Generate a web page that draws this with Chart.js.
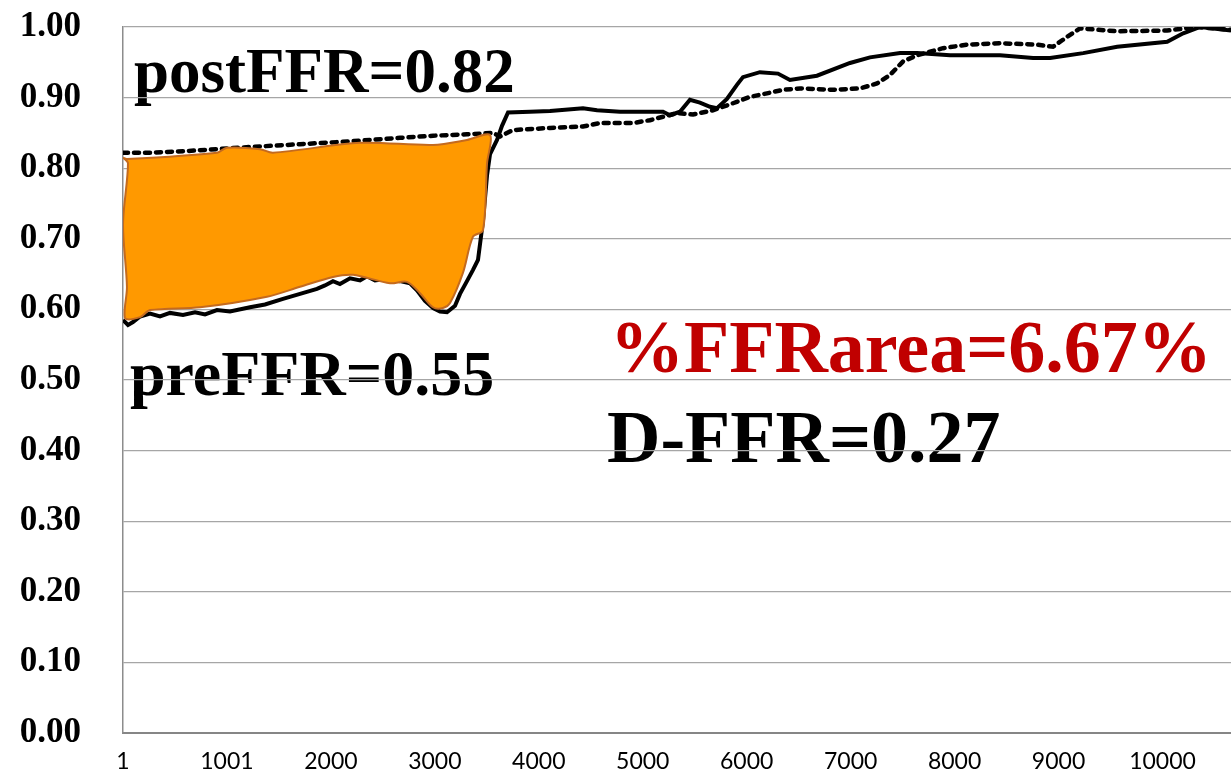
<!DOCTYPE html>
<html>
<head>
<meta charset="utf-8">
<script src="https://cdn.jsdelivr.net/npm/chart.js@4.4.1/dist/chart.umd.min.js"></script>
<style>
  html, body { margin: 0; padding: 0; background: #fff; }
  canvas { display: block; }
</style>
</head>
<body>
<canvas id="ffrChart" width="1231" height="773"></canvas>
<script>
// pre-PCI pullback (solid line): sample index and FFR
const preX = [1, 49, 97, 165, 261, 357, 453, 578, 694, 790, 905, 1030, 1223, 1367, 1540, 1704, 1867, 1944, 2021, 2088,
  2185, 2281, 2348, 2425, 2521, 2666, 2762, 2829, 2906, 2984, 3051, 3118, 3195, 3243, 3310, 3368, 3416, 3464, 3503, 3532,
  3599, 3647, 3705, 3916, 4109, 4426, 4561, 4782, 5196, 5263, 5359, 5455, 5551, 5648, 5715, 5811, 5907, 5965, 6128, 6302,
  6417, 6677, 6995, 7187, 7476, 7640, 7957, 8438, 8756, 8920, 9238, 9565, 10046, 10200, 10364, 10660];
const preFFR = [0.585, 0.578, 0.582, 0.590, 0.594, 0.590, 0.595, 0.592, 0.596, 0.593, 0.599, 0.597, 0.603, 0.607, 0.615, 0.622, 0.629, 0.634, 0.640, 0.636,
  0.644, 0.641, 0.647, 0.641, 0.643, 0.640, 0.637, 0.627, 0.612, 0.602, 0.597, 0.596, 0.605, 0.622, 0.640, 0.656, 0.670, 0.725, 0.790, 0.820,
  0.840, 0.860, 0.879, 0.880, 0.881, 0.885, 0.882, 0.880, 0.880, 0.875, 0.880, 0.897, 0.893, 0.887, 0.885, 0.898, 0.918, 0.929, 0.936, 0.934,
  0.925, 0.931, 0.949, 0.957, 0.963, 0.963, 0.960, 0.960, 0.956, 0.956, 0.963, 0.972, 0.979, 0.991, 1.000, 0.995];

// post-PCI pullback (dotted line)
const postX = [1, 261, 578, 905, 1223, 1704, 2185, 2666, 2984, 3310, 3560, 3628, 3753, 4109, 4426, 4590, 4907, 5070, 5330, 5484,
  5676, 5869, 6032, 6196, 6350, 6513, 6831, 7091, 7254, 7379, 7504, 7640, 7890, 8120, 8438, 8794, 8947, 9082, 9207, 9565,
  10046, 10334, 10660];
const postFFR = [0.822, 0.822, 0.824, 0.827, 0.830, 0.834, 0.838, 0.843, 0.846, 0.848, 0.850, 0.845, 0.854, 0.857, 0.859, 0.864, 0.864, 0.868, 0.878, 0.876,
  0.882, 0.892, 0.901, 0.906, 0.911, 0.913, 0.911, 0.913, 0.920, 0.932, 0.951, 0.960, 0.970, 0.975, 0.977, 0.975, 0.972, 0.986, 0.998, 0.994,
  0.995, 1.000, 0.996];

// outline of the shaded %FFR area (clockwise, closed)
const areaX = [1, 39, 905, 1001, 1319, 1444, 2281, 2983, 3310, 3532, 3503, 3464, 3368, 3272, 3147, 3079, 2983, 2858, 2733, 2570,
  2214, 2021, 1704, 1386, 742, 261, 165, 20, 39, 1, 49, 1];
const areaY = [0.815, 0.813, 0.822, 0.829, 0.827, 0.822, 0.836, 0.833, 0.840, 0.847, 0.807, 0.712, 0.703, 0.652, 0.609, 0.602, 0.603, 0.623, 0.639, 0.637,
  0.649, 0.646, 0.632, 0.618, 0.603, 0.599, 0.589, 0.588, 0.632, 0.720, 0.807, 0.815];

// x axis ticks
const xTickValues = [1, 1001, 2001, 3001, 4001, 5001, 6001, 7001, 8001, 9001, 10001];
const xTickLabels = ['1', '1001', '2000', '3000', '4000', '5000', '6000', '7000', '8000', '9000', '10000'];

function toPoints(xs, ys) {
    return xs.map(function(x, i) { return { x: x, y: ys[i] }; });
}

// big labels inside the plot
const notes = [
    { text: 'postFFR=0.82', x: 134, y: 92, size: 63, color: '#000000' },
    { text: 'preFFR=0.55', x: 130, y: 395, size: 64, color: '#000000' },
    { text: '%FFRarea=6.67%', x: 610, y: 372, size: 74, color: '#c00000' },
    { text: 'D-FFR=0.27', x: 607, y: 462, size: 74, color: '#000000' }
];

const notesPlugin = {
    id: 'notes',
    beforeDraw: function(chart) {
        const ctx = chart.ctx;
        ctx.save();
        ctx.textAlign = 'left';
        ctx.textBaseline = 'alphabetic';
        notes.forEach(function(n) {
            ctx.font = 'bold ' + n.size + 'px "Liberation Serif", "Times New Roman", serif';
            ctx.fillStyle = n.color;
            ctx.fillText(n.text, n.x, n.y);
        });
        ctx.restore();
    }
};

const ctx = document.getElementById('ffrChart').getContext('2d');
const ffrChart = new Chart(ctx, {
    type: 'line',
    data: {
        datasets: [
            {
                label: 'FFR area',
                data: toPoints(areaX, areaY),
                borderColor: '#c46a1e',
                borderWidth: 2,
                backgroundColor: '#ff9900',
                fill: 'shape',
                pointRadius: 0,
                tension: 0.3
            },
            {
                label: 'post',
                data: toPoints(postX, postFFR),
                borderColor: '#000000',
                borderWidth: 4.5,
                borderDash: [5, 6],
                borderCapStyle: 'round',
                pointRadius: 0,
                fill: false
            },
            {
                label: 'pre',
                data: toPoints(preX, preFFR),
                borderColor: '#000000',
                borderWidth: 4,
                pointRadius: 0,
                fill: false
            }
        ]
    },
    options: {
        responsive: false,
        animation: false,
        devicePixelRatio: 1,
        layout: { padding: { top: 27, right: 0, bottom: 0, left: 0 } },
        plugins: {
            legend: { display: false },
            tooltip: { enabled: false }
        },
        scales: {
            x: {
                type: 'linear',
                min: 1,
                max: 10660,
                afterFit: function(scale) {
                    scale.height = 40;
                    scale.paddingLeft = 0;
                    scale.paddingRight = 0;
                },
                afterBuildTicks: function(scale) {
                    scale.ticks = xTickValues.map(function(v) { return { value: v }; });
                },
                grid: { display: false, drawTicks: false },
                border: { display: true, color: '#868686', width: 2 },
                ticks: {
                    padding: 15,
                    maxRotation: 0,
                    autoSkip: false,
                    color: '#000000',
                    font: { family: 'Lato', size: 23 },
                    callback: function(value) {
                        const i = xTickValues.indexOf(value);
                        return i >= 0 ? xTickLabels[i] : '';
                    }
                }
            },
            y: {
                min: 0,
                max: 1,
                afterFit: function(scale) {
                    scale.width = 123;
                    scale.paddingTop = 0;
                    scale.paddingBottom = 0;
                },
                grid: { color: '#a6a6a6', lineWidth: 1.3, drawTicks: false },
                border: { display: true, color: '#8c8c8c', width: 1.5 },
                ticks: {
                    stepSize: 0.1,
                    padding: 42,
                    color: '#000000',
                    font: { family: '"Liberation Serif", "Times New Roman", serif', size: 35, weight: 'bold' },
                    callback: function(value) { return value.toFixed(2); }
                }
            }
        }
    },
    plugins: [notesPlugin]
});
</script>
</body>
</html>
